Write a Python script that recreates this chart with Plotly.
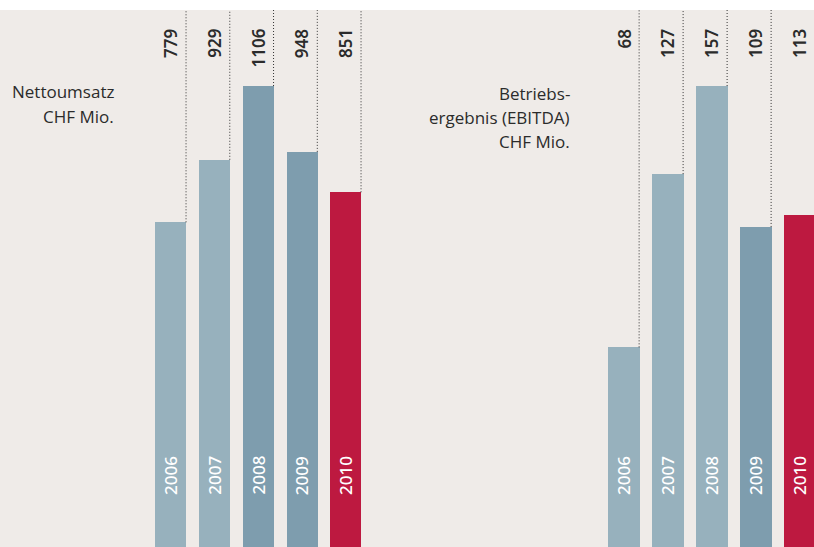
import plotly.graph_objects as go

# Data
years = [2006, 2007, 2008, 2009, 2010]
umsatz = [779, 929, 1106, 948, 851]          # Nettoumsatz, CHF Mio.
ebitda = [68, 127, 157, 109, 113]            # Betriebsergebnis (EBITDA), CHF Mio.
umsatz_colors = ["#97b1bd", "#97b1bd", "#7e9dae", "#7e9dae", "#bd1940"]
ebitda_colors = ["#97b1bd", "#97b1bd", "#97b1bd", "#7e9dae", "#bd1940"]
title_left = ["Nettoumsatz", "CHF Mio."]
title_right = ["Betriebs-", "ergebnis (EBITDA)", "CHF Mio."]

W, H = 814, 547
TOP = 10
PLOT_H = H - TOP
BG = "#efebe8"
TEXT = "#2b2b2b"
NUM_FONT = "Noto Sans"
TXT_FONT = "Open Sans"

# axis ranges chosen so that the tallest bar reaches the same height in both panels
peak_px = 461
y1_max = max(umsatz) * PLOT_H / peak_px
y2_max = max(ebitda) * PLOT_H / peak_px
bar_w = 0.71


def py(px):
    """pixel row (from top of page) -> paper y"""
    return (H - px) / PLOT_H


fig = go.Figure()

panels = [
    (umsatz, umsatz_colors, "x", "y", y1_max),
    (ebitda, ebitda_colors, "x2", "y2", y2_max),
]
for vals, cols, xa, ya, ymax in panels:
    fig.add_trace(go.Bar(
        x=years, y=vals, width=bar_w, marker=dict(color=cols, line_width=0),
        xaxis=xa, yaxis=ya, showlegend=False, hoverinfo="skip",
    ))
    # dotted leader from the bar's right edge up to the top of the field
    for yr, v in zip(years, vals):
        fig.add_trace(go.Scatter(
            x=[yr + bar_w / 2, yr + bar_w / 2], y=[v, ymax],
            mode="lines", line=dict(color="#333333", width=1, dash="1px,2px"),
            xaxis=xa, yaxis=ya, showlegend=False, hoverinfo="skip",
        ))
        fig.add_annotation(
            x=yr, xref=xa, y=py(27), yref="paper",
            text=str(v), textangle=-90, showarrow=False,
            xanchor="center", yanchor="top",
            font=dict(family=NUM_FONT, size=17, color=TEXT, weight=600),
        )
        fig.add_annotation(
            x=yr, xref=xa, y=py(454), yref="paper",
            text=str(yr), textangle=-90, showarrow=False,
            xanchor="center", yanchor="top",
            font=dict(family=NUM_FONT, size=17, color="white", weight=500),
        )

# panel titles, right-aligned, one annotation per line
for lines, x_right, first_mid in [(title_left, 116, 92), (title_right, 572, 93)]:
    for i, line in enumerate(lines):
        fig.add_annotation(
            x=x_right / W, xref="paper", y=py(first_mid + 24.5 * i), yref="paper",
            text=line, showarrow=False, align="right",
            xanchor="right", yanchor="middle",
            font=dict(family=TXT_FONT, size=17, color=TEXT),
        )

# left panel: step 43.75 px per year, first bar centred at 170.5 px
left_lo = (170.5 - 21.875) / W
left_hi = (345.5 + 21.875) / W
# right panel: step 44 px per year, runs off the right edge
step2 = 44.0
right_lo = (623.5 - step2 / 2) / W
x2_max = 2005.5 + (W - (623.5 - step2 / 2)) / step2

axis_common = dict(showgrid=False, zeroline=False, showticklabels=False,
                   ticks="", showline=False, fixedrange=True)
fig.update_layout(
    width=W, height=H,
    margin=dict(l=0, r=0, t=TOP, b=0, pad=0),
    paper_bgcolor="white", plot_bgcolor=BG,
    bargap=0,
    xaxis=dict(domain=[left_lo, left_hi], range=[2005.5, 2010.5], **axis_common),
    yaxis=dict(domain=[0, 1], range=[0, y1_max], **axis_common),
    xaxis2=dict(domain=[right_lo, 1], range=[2005.5, x2_max], anchor="y2", **axis_common),
    yaxis2=dict(domain=[0, 1], range=[0, y2_max], anchor="x2", **axis_common),
)

# the beige field covers the whole area below the white strip
fig.add_shape(type="rect", xref="paper", yref="paper", x0=0, x1=1, y0=0, y1=1,
              fillcolor=BG, line_width=0, layer="below")

fig.write_html("out.html")
